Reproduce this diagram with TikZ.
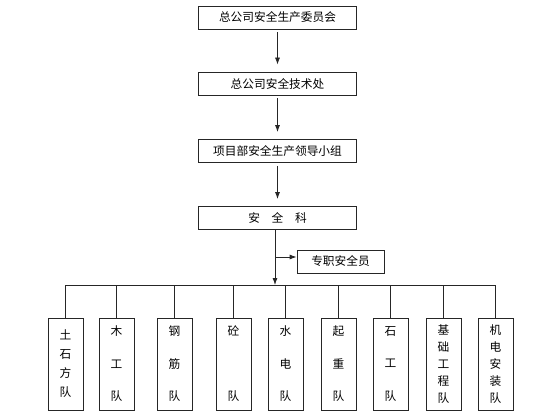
\documentclass[tikz,border=0pt]{standalone}
\usetikzlibrary{arrows.meta}
\usepackage{fontspec}
\setmainfont{Noto Sans CJK SC}
\begin{document}
\begin{tikzpicture}[x=1pt,y=-1pt,line width=0.8pt,>={Latex[length=7pt,width=5pt]},font=\fontsize{11.7}{13}\selectfont,
 box/.style={draw=black!85,minimum width=158pt,minimum height=23pt,inner sep=0pt},
 team/.style={draw=black!85,minimum width=35pt,minimum height=92pt,inner sep=0pt,align=center},
 link/.style={draw=black!85,->,shorten <=3pt,shorten >=7pt}]
\useasboundingbox(0,0)rectangle(560,420);
\node[box](weiyuanhui)at(277.5,17.5){总公司安全生产委员会};
\node[box](jishuchu)at(277.5,83.5){总公司安全技术处};
\node[box](lingdao)at(277.5,151){项目部安全生产领导小组};
\node[box](anquanke)at(277.5,218){安\quad 全\quad 科};
\node[draw=black!85,minimum width=87pt,minimum height=23pt,inner sep=0pt](zhuanzhi)at(340.5,261.5){专职安全员};
\coordinate(fork)at(275,257);
\coordinate(bus)at(275,285);
\draw[link](weiyuanhui)--(jishuchu);
\draw[link](jishuchu)--(lingdao);
\draw[link](lingdao)--(anquanke);
\draw[draw=black!85,->](fork|-anquanke.south)--(bus);
\draw[draw=black!85,->](fork)--(fork-|zhuanzhi.west);
\foreach \x/\n/\s/\t in {65.5/tushi/19/{土\\石\\方\\队},116.5/mugong/32.5/{木\\工\\队},174.5/gangjin/32.5/{钢\\筋\\队},233.5/tong/65/{砼\\队},285.5/shuidian/32.5/{水\\电\\队},338.5/qizhong/32.5/{起\\重\\队},390.5/shigong/32.5/{石\\工\\队},443.5/jichu/16.8/{基\\础\\工\\程\\队},495.5/jidian/16.8/{机\\电\\安\\装\\队}}{
\node[team,font={\fontsize{11.7}{\s}\selectfont}](\n)at(\x,364){\t};
\draw[draw=black!85](\n.north|-bus)--(\n.north);
}
\draw[draw=black!85](tushi.north|-bus)--(jidian.north|-bus);
\end{tikzpicture}
\end{document}
